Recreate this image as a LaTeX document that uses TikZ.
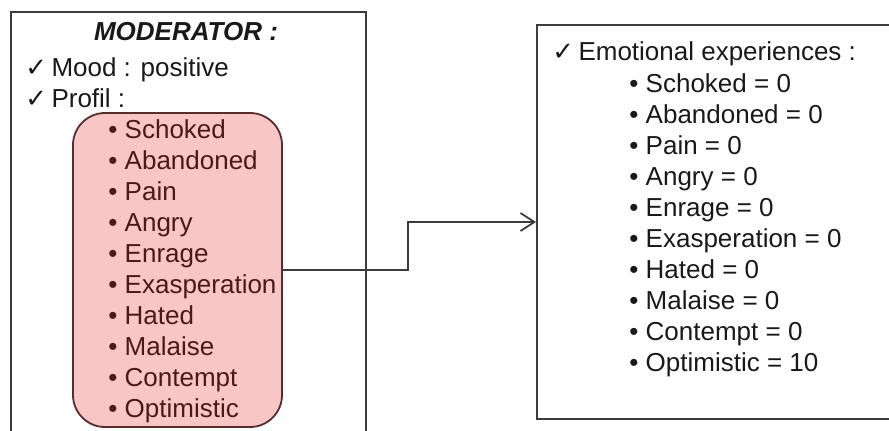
\documentclass[tikz,border=0pt]{standalone}
\usepackage{fontspec}
\setmainfont{Liberation Sans}
\newfontfamily\checkfont{DejaVu Sans}
\usetikzlibrary{fit,arrows.meta}
\definecolor{boxline}{RGB}{60,60,60}
\definecolor{inktext}{RGB}{25,25,25}
\definecolor{profilfill}{RGB}{249,198,198}
\definecolor{profilline}{RGB}{90,45,45}
\definecolor{profiltext}{RGB}{75,25,25}
\newcommand{\tick}{{\checkfont\fontsize{13}{15}\selectfont ✓}}

\begin{document}
\begin{tikzpicture}[x=0.5pt,y=-0.5pt,
  panel/.style={draw=boxline,line width=0.9pt,inner sep=0pt},
  profilbox/.style={draw=profilline,fill=profilfill,line width=0.9pt,rounded corners=16pt,inner sep=0pt},
  entry/.style={anchor=base west,inner sep=0pt,text=inktext,font=\fontsize{13}{15.5}\selectfont},
  link/.style={draw=boxline,line width=0.9pt,-{Straight Barb[length=7pt,width=9pt]}}]
  \useasboundingbox (0,0) rectangle (889,430);
  \clip (0,0) rectangle (889,430);

  % moderator panel
  \node[panel,fit={(11,12) (366,470)}] (moderator) {};
  \node[profilbox,fit={(73,113) (282,427)}] (profil) {};
  \node[entry,anchor=base,font=\fontsize{13}{15.5}\selectfont\bfseries\itshape] (title) at (186,40) {MODERATOR :};
  \node[entry] (mood) at (25,76) {\tick\,Mood : positive};
  \node[entry] (prof) at (25,107) {\tick\,Profil :};
  \foreach \feel [count=\i from 0] in {Schoked,Abandoned,Pain,Angry,Enrage,Exasperation,Hated,Malaise,Contempt,Optimistic}
    \node[entry,text=profiltext] (prof-\i) at (108,138+31*\i) {• \feel};

  % emotional experiences panel
  \node[panel,fit={(537,25) (920,419)}] (emotions) {};
  \node[entry] (exphead) at (552,60) {\tick\,Emotional experiences :};
  \foreach \feel/\val [count=\i from 0] in {Schoked/0,Abandoned/0,Pain/0,Angry/0,Enrage/0,Exasperation/0,Hated/0,Malaise/0,Contempt/0,Optimistic/10}
    \node[entry] (exp-\i) at (629,92+31*\i) {• \feel{} = \val};

  % connector
  \coordinate (elbow) at (408,0);
  \draw[link] (profil.east) -- (profil.east -| elbow) |- (emotions.west);
\end{tikzpicture}
\end{document}
